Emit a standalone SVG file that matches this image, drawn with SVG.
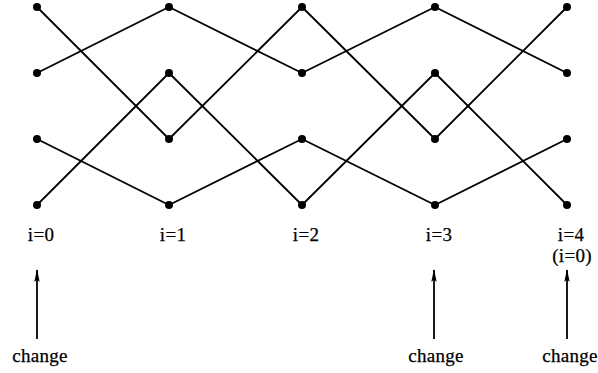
<svg xmlns="http://www.w3.org/2000/svg" width="598" height="373" viewBox="0 0 598 373">
<style>
.e{stroke:#000;stroke-width:1.8;fill:none;stroke-linecap:round}
.d{fill:#000}
.t{font-family:"Liberation Serif","Times New Roman",serif;font-size:19px;fill:#000;text-anchor:middle;letter-spacing:0.3px;stroke:#000;stroke-width:0.25}
.a{stroke:#000;stroke-width:1.8;fill:none}
</style>
<defs>
<marker id="ah" markerWidth="13" markerHeight="8" refX="12" refY="4" orient="auto" markerUnits="userSpaceOnUse">
<path d="M0,1.3 L13,4 L0,6.7 L2.5,4 Z" fill="#000"/>
</marker>
</defs>
<g id="connectors">
<line class="e" x1="37" y1="7" x2="169" y2="139"/>
<line class="e" x1="37" y1="73" x2="169" y2="7"/>
<line class="e" x1="37" y1="139" x2="169" y2="205"/>
<line class="e" x1="37" y1="205" x2="169" y2="73"/>
<line class="e" x1="169" y1="7" x2="302" y2="73"/>
<line class="e" x1="169" y1="73" x2="302" y2="205"/>
<line class="e" x1="169" y1="139" x2="302" y2="7"/>
<line class="e" x1="169" y1="205" x2="302" y2="139"/>
<line class="e" x1="302" y1="7" x2="435" y2="139"/>
<line class="e" x1="302" y1="73" x2="435" y2="7"/>
<line class="e" x1="302" y1="139" x2="435" y2="205"/>
<line class="e" x1="302" y1="205" x2="435" y2="73"/>
<line class="e" x1="435" y1="7" x2="567" y2="73"/>
<line class="e" x1="435" y1="73" x2="567" y2="205"/>
<line class="e" x1="435" y1="139" x2="567" y2="7"/>
<line class="e" x1="435" y1="205" x2="567" y2="139"/>
<line class="a" x1="37" y1="339" x2="37" y2="270" marker-end="url(#ah)"/>
<line class="a" x1="434" y1="339" x2="434" y2="270" marker-end="url(#ah)"/>
<line class="a" x1="567" y1="339" x2="567" y2="270" marker-end="url(#ah)"/>
</g>
<g id="col0">
<circle class="d" cx="37" cy="7" r="4"/><circle class="d" cx="37" cy="73" r="4"/><circle class="d" cx="37" cy="139" r="4"/><circle class="d" cx="37" cy="205" r="4"/>
<text class="t" x="41" y="241">i=0</text>
</g>
<g id="col1">
<circle class="d" cx="169" cy="7" r="4"/><circle class="d" cx="169" cy="73" r="4"/><circle class="d" cx="169" cy="139" r="4"/><circle class="d" cx="169" cy="205" r="4"/>
<text class="t" x="173" y="241">i=1</text>
</g>
<g id="col2">
<circle class="d" cx="302" cy="7" r="4"/><circle class="d" cx="302" cy="73" r="4"/><circle class="d" cx="302" cy="139" r="4"/><circle class="d" cx="302" cy="205" r="4"/>
<text class="t" x="306" y="241">i=2</text>
</g>
<g id="col3">
<circle class="d" cx="435" cy="7" r="4"/><circle class="d" cx="435" cy="73" r="4"/><circle class="d" cx="435" cy="139" r="4"/><circle class="d" cx="435" cy="205" r="4"/>
<text class="t" x="439" y="241">i=3</text>
</g>
<g id="col4">
<circle class="d" cx="567" cy="7" r="4"/><circle class="d" cx="567" cy="73" r="4"/><circle class="d" cx="567" cy="139" r="4"/><circle class="d" cx="567" cy="205" r="4"/>
<text class="t" x="571" y="241">i=4</text>
<text class="t" x="572" y="262">(i=0)</text>
</g>
<g id="change0"><text class="t" x="40" y="362">change</text></g>
<g id="change3"><text class="t" x="436" y="362">change</text></g>
<g id="change4"><text class="t" x="570" y="362">change</text></g>
</svg>
